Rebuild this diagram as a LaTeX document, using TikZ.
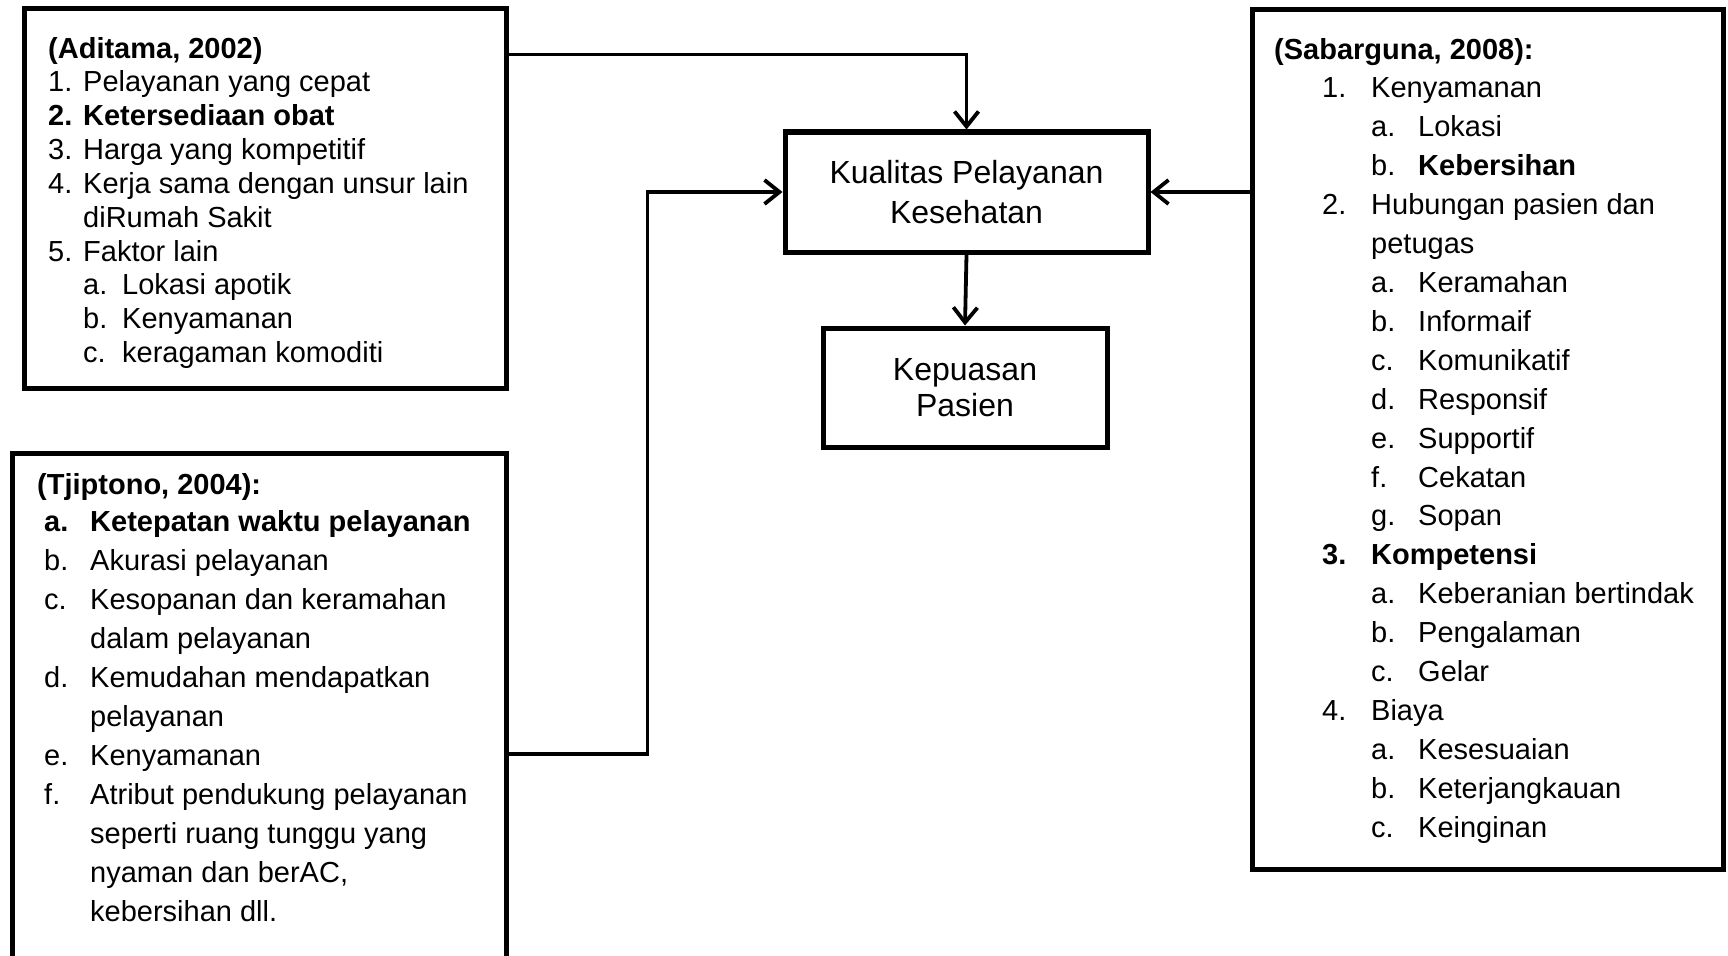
\documentclass[tikz,border=0pt]{standalone}
\usepackage{fontspec}
\setmainfont{Liberation Sans}
\usepackage{tikz}
\usetikzlibrary{arrows.meta}

\newcommand{\lab}[2][46pt]{\makebox[#1][l]{#2}}

\begin{document}
\begin{tikzpicture}[x=1pt,y=-1pt,
  box/.style={draw,line width=5pt,inner sep=0pt},
  conn/.style={line width=3.8pt,-{Straight Barb[length=15pt,width=24pt]}},
  txt/.style={anchor=base west,inner sep=0pt,font=\fontsize{29pt}{34pt}\selectfont}]
\useasboundingbox (0,0) rectangle (1728,955);

% boxes
\node[box,minimum width=482pt,minimum height=380pt] (aditama) at (265,198.5) {};
\node[box,minimum width=493.5pt,minimum height=540pt] (tjiptono) at (259.25,723.5) {};
\node[box,minimum width=471pt,minimum height=859pt] (sabarguna) at (1487.5,439.5) {};
\node[box,minimum width=363pt,minimum height=120pt,align=center,
  font=\fontsize{32pt}{40pt}\selectfont] (kualitas) at (966.5,192) {Kualitas Pelayanan\\Kesehatan};
\node[box,minimum width=284pt,minimum height=119pt,align=center,
  font=\fontsize{32pt}{36pt}\selectfont] (kepuasan) at (965,387.5) {Kepuasan\\Pasien};

% (Aditama, 2002)
\node[txt] (ad-title) at (48,59) {\textbf{(Aditama, 2002)}};
\foreach \x/\txt [count=\k from 0] in {
  48/{\lab[35pt]{1.}Pelayanan yang cepat},
  48/{\textbf{\lab[35pt]{2.}Ketersediaan obat}},
  48/{\lab[35pt]{3.}Harga yang kompetitif},
  48/{\lab[35pt]{4.}Kerja sama dengan unsur lain},
  83/{diRumah Sakit},
  48/{\lab[35pt]{5.}Faktor lain},
  83/{\lab[39pt]{a.}Lokasi apotik},
  83/{\lab[39pt]{b.}Kenyamanan},
  83/{\lab[39pt]{c.}keragaman komoditi}}{
  \node[txt] (ad-\k) at (\x,{92+33.8*\k}) {\txt};
}

% (Tjiptono, 2004)
\node[txt] (tj-title) at (37,494) {\textbf{(Tjiptono, 2004):}};
\foreach \x/\txt [count=\k from 0] in {
  44/{\textbf{\lab{a.}Ketepatan waktu pelayanan}},
  44/{\lab{b.}Akurasi pelayanan},
  44/{\lab{c.}Kesopanan dan keramahan},
  90/{dalam pelayanan},
  44/{\lab{d.}Kemudahan mendapatkan},
  90/{pelayanan},
  44/{\lab{e.}Kenyamanan},
  44/{\lab{f.}Atribut pendukung pelayanan},
  90/{seperti ruang tunggu yang},
  90/{nyaman dan berAC,},
  90/{kebersihan dll.}}{
  \node[txt] (tj-\k) at (\x,{531+39*\k}) {\txt};
}

% (Sabarguna, 2008)
\node[txt] (sb-title) at (1274,60) {\textbf{(Sabarguna, 2008):}};
\foreach \x/\txt [count=\k from 0] in {
  1322/{\lab[49pt]{1.}Kenyamanan},
  1371/{\lab[47pt]{a.}Lokasi},
  1371/{\lab[47pt]{b.}\textbf{Kebersihan}},
  1322/{\lab[49pt]{2.}Hubungan pasien dan},
  1371/{petugas},
  1371/{\lab[47pt]{a.}Keramahan},
  1371/{\lab[47pt]{b.}Informaif},
  1371/{\lab[47pt]{c.}Komunikatif},
  1371/{\lab[47pt]{d.}Responsif},
  1371/{\lab[47pt]{e.}Supportif},
  1371/{\lab[47pt]{f.}Cekatan},
  1371/{\lab[47pt]{g.}Sopan},
  1322/{\textbf{\lab[49pt]{3.}Kompetensi}},
  1371/{\lab[47pt]{a.}Keberanian bertindak},
  1371/{\lab[47pt]{b.}Pengalaman},
  1371/{\lab[47pt]{c.}Gelar},
  1322/{\lab[49pt]{4.}Biaya},
  1371/{\lab[47pt]{a.}Kesesuaian},
  1371/{\lab[47pt]{b.}Keterjangkauan},
  1371/{\lab[47pt]{c.}Keinginan}}{
  \node[txt] (sb-\k) at (\x,{98+38.9*\k}) {\txt};
}

% connectors
\draw[conn] ([yshift=-48.5pt]aditama.north east) -| (kualitas.north);
\draw[conn] ([yshift=-303pt]tjiptono.north east) -- ++(139,0) |- (kualitas.west);
\draw[conn] (kualitas.east -| sabarguna.west) -- (kualitas.east);
\draw[conn] (kualitas.south) -- (kepuasan.north);
\end{tikzpicture}
\end{document}
